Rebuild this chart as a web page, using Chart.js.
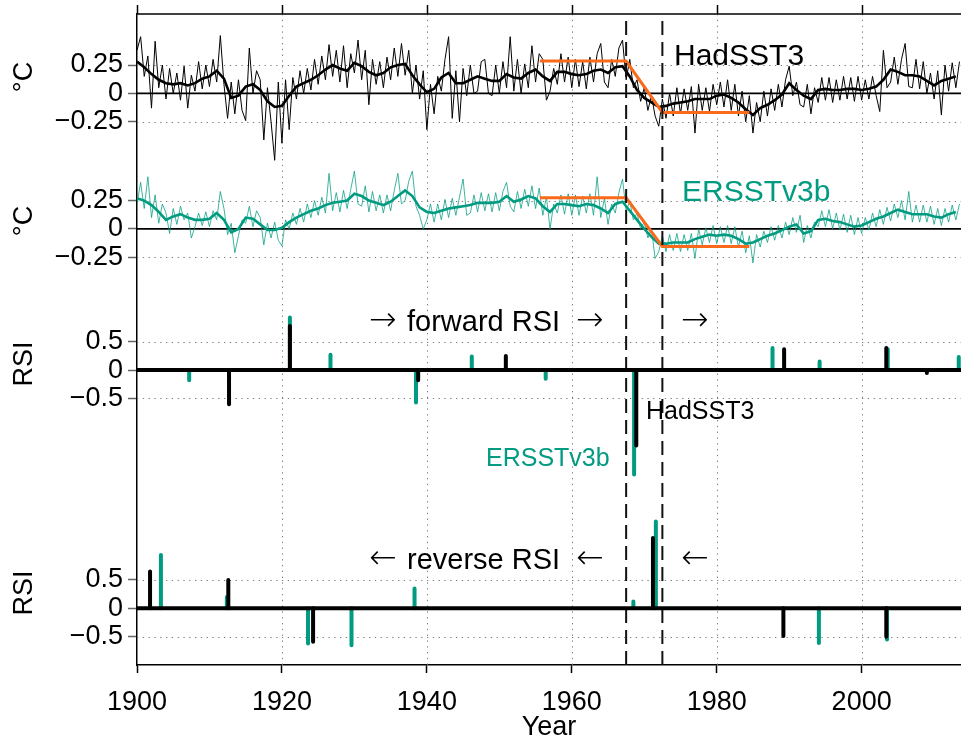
<!DOCTYPE html>
<html>
<head>
<meta charset="utf-8">
<script src="https://cdn.jsdelivr.net/npm/chart.js@4.4.1/dist/chart.umd.min.js"></script>
<style>
  html, body { margin: 0; padding: 0; background: #fff; }
  #wrap { position: relative; width: 961px; height: 740px; }
</style>
</head>
<body>
<div id="wrap"><canvas id="rsiChart"></canvas></div>
<script>
// Half-yearly SST anomalies (degC), 1900.0 .. 2013.5
const RAW_START = 1900;
const RAW_STEP = 0.5;
const hadRaw = [
  0.38, 0.50, 0.15, 0.33, -0.13, 0.46, 0.05, 0.25, -0.05, 0.22, 0.00, 0.18, -0.06, 0.24, -0.13, 0.16, 0.02, 0.28, 0.04, 0.25,
  0.06, 0.30, 0.10, 0.51, 0.08, -0.22, 0.10, -0.18, 0.12, -0.15, -0.24, 0.40, 0.00, 0.20, 0.12, -0.41, 0.05, -0.25, -0.59, 0.10,
  -0.44, 0.12, -0.32, 0.14, -0.05, 0.20, 0.00, 0.22, 0.03, 0.30, 0.08, 0.33, 0.12, 0.43, 0.15, 0.38, 0.10, 0.42, 0.05, 0.35,
  0.18, 0.47, 0.12, 0.38, -0.10, 0.30, 0.08, 0.28, 0.05, 0.32, 0.12, 0.40, 0.15, 0.44, 0.16, 0.38, 0.00, 0.25, -0.05, 0.20,
  -0.32, 0.08, -0.18, 0.15, 0.02, 0.30, 0.50, -0.22, 0.20, -0.25, 0.22, -0.02, 0.25, 0.00, 0.02, 0.28, 0.30, 0.00, -0.02, 0.25,
  0.00, 0.28, 0.05, 0.50, 0.02, 0.30, 0.00, 0.26, 0.05, 0.42, 0.10, 0.35, 0.30, -0.06, 0.02, 0.22, 0.08, 0.35, 0.10, 0.32,
  0.05, 0.30, 0.06, 0.28, 0.04, 0.32, 0.10, 0.35, 0.44, 0.10, 0.05, 0.30, 0.15, 0.40, 0.47, 0.12, 0.30, 0.05, 0.12, -0.07,
  0.05, -0.15, -0.02, -0.20, -0.29, -0.05, -0.22, 0.00, -0.20, 0.05, -0.18, 0.04, -0.15, 0.06, -0.35, 0.08, -0.15, 0.05, -0.16, 0.08,
  -0.10, 0.10, -0.12, 0.12, -0.15, 0.08, -0.20, 0.02, -0.25, -0.02, -0.35, -0.08, -0.25, 0.02, -0.20, 0.04, -0.15, 0.08, -0.12, 0.12,
  0.24, -0.02, 0.10, -0.10, -0.12, 0.08, -0.18, 0.05, -0.08, 0.14, -0.06, 0.14, -0.08, 0.12, -0.06, 0.15, -0.05, 0.14, -0.07, 0.15,
  -0.06, 0.12, -0.05, 0.15, -0.02, -0.16, 0.38, 0.05, 0.10, 0.32, 0.08, 0.30, 0.44, 0.06, 0.05, 0.30, 0.04, 0.28, 0.00, 0.18,
  -0.05, 0.20, -0.19, 0.25, 0.02, 0.27, 0.05, 0.28
];
const ersRaw = [
  0.22, 0.41, 0.18, 0.46, 0.10, 0.30, 0.05, 0.22, 0.14, -0.04, 0.18, 0.04, 0.20, 0.08, 0.14, -0.08, 0.02, 0.14, 0.03, 0.15,
  0.02, 0.16, 0.08, 0.33, 0.18, -0.05, 0.05, -0.21, -0.06, 0.08, 0.05, 0.20, 0.02, 0.16, 0.10, -0.14, 0.05, -0.08, 0.06, -0.10,
  -0.15, 0.08, 0.00, 0.14, 0.04, 0.18, 0.06, 0.22, 0.10, 0.25, 0.12, 0.28, 0.14, 0.49, 0.16, 0.32, 0.15, 0.34, 0.18, 0.35,
  0.51, 0.22, 0.20, 0.38, 0.15, 0.33, 0.16, 0.30, 0.14, 0.30, 0.16, 0.34, 0.49, 0.22, 0.25, 0.42, 0.51, 0.20, 0.12, 0.00,
  0.08, 0.22, 0.06, 0.22, 0.08, 0.26, 0.10, 0.27, 0.12, 0.28, 0.44, 0.12, 0.14, 0.30, 0.15, 0.32, 0.16, 0.31, 0.15, 0.32,
  0.16, 0.33, 0.41, 0.20, 0.15, 0.33, 0.18, 0.35, 0.20, 0.38, 0.18, 0.36, 0.12, 0.28, 0.00, 0.22, 0.14, 0.30, 0.13, 0.31,
  0.12, 0.30, 0.12, 0.29, 0.14, 0.31, 0.12, 0.46, 0.10, 0.27, 0.04, 0.22, 0.14, 0.32, 0.44, 0.16, 0.24, 0.08, 0.14, 0.00,
  0.06, -0.08, 0.00, -0.26, -0.20, -0.06, -0.20, -0.05, -0.19, -0.04, -0.20, -0.05, -0.19, -0.04, -0.26, 0.00, -0.14, 0.01, -0.12, 0.03,
  -0.13, 0.02, -0.12, 0.03, -0.13, 0.02, -0.16, -0.02, -0.21, -0.06, -0.30, -0.05, -0.16, -0.02, -0.12, 0.02, -0.10, 0.03, -0.08, 0.06,
  -0.05, 0.10, -0.03, 0.12, -0.12, 0.03, -0.08, 0.06, 0.02, 0.16, 0.02, 0.17, 0.00, 0.14, -0.01, 0.13, -0.03, 0.12, -0.05, 0.10,
  -0.04, 0.10, -0.01, 0.14, 0.02, 0.17, 0.04, 0.19, 0.07, 0.22, 0.10, 0.25, 0.08, 0.33, 0.06, 0.21, 0.06, 0.21, 0.06, 0.20,
  0.04, 0.18, 0.03, 0.18, 0.06, 0.21, 0.08, 0.22
];

// Smoothed curves, one value per year 1900 .. 2013
const SMOOTH_START = 1900;
const hadSmooth = [
  0.28, 0.23, 0.17, 0.12, 0.09, 0.08, 0.09, 0.07, 0.09, 0.13, 0.15, 0.20, 0.13, -0.04, -0.02, 0.06, 0.08, 0.03, -0.07, -0.12,
  -0.11, -0.02, 0.06, 0.09, 0.12, 0.16, 0.21, 0.25, 0.22, 0.20, 0.27, 0.24, 0.19, 0.16, 0.18, 0.23, 0.25, 0.26, 0.16, 0.08,
  0.01, 0.04, 0.14, 0.18, 0.09, 0.09, 0.12, 0.15, 0.13, 0.11, 0.11, 0.17, 0.14, 0.13, 0.18, 0.21, 0.15, 0.11, 0.19, 0.19,
  0.17, 0.16, 0.17, 0.20, 0.21, 0.18, 0.23, 0.24, 0.15, 0.03, -0.04, -0.08, -0.12, -0.11, -0.09, -0.08, -0.07, -0.05, -0.05, -0.05,
  -0.02, -0.01, -0.04, -0.08, -0.14, -0.19, -0.13, -0.10, -0.06, -0.01, 0.09, 0.03, -0.02, -0.05, 0.03, 0.04, 0.03, 0.03, 0.04, 0.04,
  0.03, 0.04, 0.06, 0.12, 0.21, 0.19, 0.16, 0.16, 0.15, 0.11, 0.07, 0.11, 0.13, 0.15
];
const ersSmooth = [
  0.27, 0.25, 0.21, 0.15, 0.08, 0.11, 0.13, 0.10, 0.08, 0.08, 0.09, 0.14, 0.08, -0.03, 0.00, 0.10, 0.09, 0.04, -0.01, -0.01,
  0.01, 0.06, 0.10, 0.13, 0.16, 0.18, 0.21, 0.23, 0.24, 0.25, 0.31, 0.29, 0.25, 0.23, 0.21, 0.24, 0.29, 0.34, 0.29, 0.19,
  0.15, 0.14, 0.16, 0.18, 0.19, 0.20, 0.21, 0.23, 0.23, 0.23, 0.24, 0.29, 0.24, 0.26, 0.29, 0.27, 0.20, 0.15, 0.22, 0.22,
  0.21, 0.20, 0.22, 0.21, 0.18, 0.14, 0.22, 0.24, 0.16, 0.08, 0.00, -0.07, -0.13, -0.13, -0.12, -0.12, -0.12, -0.09, -0.07, -0.05,
  -0.06, -0.05, -0.06, -0.09, -0.13, -0.12, -0.09, -0.06, -0.04, -0.01, 0.02, 0.04, -0.04, -0.02, 0.08, 0.09, 0.07, 0.06, 0.04, 0.02,
  0.03, 0.06, 0.09, 0.11, 0.14, 0.17, 0.15, 0.13, 0.13, 0.13, 0.11, 0.10, 0.13, 0.15
];

// Two-regime fits (orange)
const fitYears = [1955.6, 1967.5, 1972.5, 1984.5];
const hadFit = [0.285, 0.285, -0.168, -0.168];
const ersFit = [0.274, 0.274, -0.155, -0.155];
const breakYears = [1967.5, 1972.5];

// Regime shift index, forward and reverse
const fwdHadYears = [1912.7, 1921.1, 1938.8, 1950.9, 1968.9, 1989.3, 2003.4, 2009.0];
const fwdHadVals = [-0.60, 0.78, -0.18, 0.25, -1.33, 0.37, 0.39, -0.05];
const fwdErsYears = [1907.2, 1921.1, 1926.7, 1938.5, 1946.2, 1956.4, 1968.6, 1987.7, 1994.2, 2003.6, 2013.4];
const fwdErsVals = [-0.18, 0.93, 0.27, -0.57, 0.24, -0.15, -1.84, 0.39, 0.15, 0.37, 0.23];
const revHadYears = [1901.8, 1912.6, 1924.3, 1971.2, 1989.2, 2003.4];
const revHadVals = [0.65, 0.50, -0.59, 1.24, -0.49, -0.50];
const revErsYears = [1903.3, 1912.4, 1923.6, 1929.6, 1938.3, 1968.5, 1971.6, 1994.1, 2003.5];
const revErsVals = [0.94, 0.20, -0.62, -0.65, 0.35, 0.12, 1.53, -0.61, -0.55];

// Axis ticks
const xTicks = [1900, 1920, 1940, 1960, 1980, 2000];
const xGridYears = [1920, 1940, 1960, 1980, 2000];
const tempTicks = [0.25, 0, -0.25];
const tempTickLabels = ['0.25', '0', '\u22120.25'];
const rsiTicks = [0.5, 0, -0.5];
const rsiTickLabels = ['0.5', '0', '\u22120.5'];

// Panel layout on one shared y scale
const OFF_HAD = 4.54;
const OFF_ERS = 3.345;
const OFF_FWD = 2.10;
const OFF_REV = 0;
const RSI_SCALE = 0.5;
const Y_MIN = -0.5;
const Y_MAX = 5.24;
const X_MIN = 1900;
const X_MAX = 2013.71;

const TEAL = '#009B80';
const TEAL_THIN = 'rgba(0, 155, 128, 0.75)';
const ORANGE = '#F96A1B';
const FONT = '"Liberation Sans", Arial, Helvetica, sans-serif';
const ARROW_FONT = '"DejaVu Sans", sans-serif';

Chart.defaults.font.family = FONT;

function rawPoints(vals, offset) {
  return vals.map((v, i) => ({ x: RAW_START + i * RAW_STEP, y: offset + v }));
}
function smoothPoints(vals, offset) {
  return vals.map((v, i) => ({ x: SMOOTH_START + i, y: offset + v }));
}
function fitPoints(vals, offset) {
  return vals.map((v, i) => ({ x: fitYears[i], y: offset + v }));
}
function sticks(years, vals, offset) {
  const pts = [];
  years.forEach((yr, i) => {
    pts.push({ x: yr, y: offset });
    pts.push({ x: yr, y: offset + vals[i] * RSI_SCALE });
    pts.push({ x: yr, y: null });
  });
  return pts;
}

// y tick values + labels for all four panels
const yTickValues = [];
const yTickText = [];
[[OFF_HAD, 1], [OFF_ERS, 1], [OFF_FWD, RSI_SCALE], [OFF_REV, RSI_SCALE]].forEach(([off, k], p) => {
  const vals = p < 2 ? tempTicks : rsiTicks;
  const labs = p < 2 ? tempTickLabels : rsiTickLabels;
  vals.forEach((v, i) => { yTickValues.push(off + v * k); yTickText.push(labs[i]); });
});

function lineDs(data, color, width, order, extra) {
  return Object.assign({
    type: 'line', data: data, borderColor: color, borderWidth: width,
    pointRadius: 0, fill: false, tension: 0, order: order, spanGaps: false
  }, extra || {});
}

const datasets = [
  lineDs(rawPoints(hadRaw, OFF_HAD), '#000', 1, 9),
  lineDs(smoothPoints(hadSmooth, OFF_HAD), '#000', 2.6, 8),
  lineDs(rawPoints(ersRaw, OFF_ERS), TEAL_THIN, 1, 9),
  lineDs(smoothPoints(ersSmooth, OFF_ERS), TEAL, 2.6, 8),
  lineDs(fitPoints(hadFit, OFF_HAD), ORANGE, 3, 6),
  lineDs(fitPoints(ersFit, OFF_ERS), ORANGE, 3, 6),
  lineDs(sticks(fwdErsYears, fwdErsVals, OFF_FWD), TEAL, 4, 5, { borderCapStyle: 'round' }),
  lineDs(sticks(fwdHadYears, fwdHadVals, OFF_FWD), '#000', 4, 4, { borderCapStyle: 'round' }),
  lineDs(sticks(revErsYears, revErsVals, OFF_REV), TEAL, 4, 5, { borderCapStyle: 'round' }),
  lineDs(sticks(revHadYears, revHadVals, OFF_REV), '#000', 4, 4, { borderCapStyle: 'round' })
];
breakYears.forEach(yr => {
  datasets.push(lineDs([{ x: yr, y: Y_MIN }, { x: yr, y: Y_MAX }], '#111', 2, 2, { borderDash: [14, 7] }));
});

// dotted grid, zero lines, frame top and text labels
const decorPlugin = {
  id: 'decor',
  beforeDatasetsDraw(chart) {
    const { ctx, chartArea: a, scales: { x, y } } = chart;
    ctx.save();
    ctx.strokeStyle = '#7a7a7a';
    ctx.lineWidth = 1;
    ctx.setLineDash([1.3, 4.5]);
    xGridYears.forEach(yr => {
      const px = Math.round(x.getPixelForValue(yr)) + 0.5;
      ctx.beginPath(); ctx.moveTo(px, a.top); ctx.lineTo(px, a.bottom); ctx.stroke();
    });
    yTickValues.forEach((v, i) => {
      if (yTickText[i] === '0') return;
      const py = Math.round(y.getPixelForValue(v)) + 0.5;
      ctx.beginPath(); ctx.moveTo(a.left, py); ctx.lineTo(a.right, py); ctx.stroke();
    });
    ctx.setLineDash([]);
    ctx.strokeStyle = '#000';
    ctx.lineWidth = 1.6;
    [OFF_HAD, OFF_ERS].forEach(off => {
      const py = y.getPixelForValue(off);
      ctx.beginPath(); ctx.moveTo(a.left, py); ctx.lineTo(a.right, py); ctx.stroke();
    });
    ctx.restore();
  },
  afterDatasetsDraw(chart) {
    const { ctx, chartArea: a, scales: { x, y } } = chart;
    ctx.save();
    ctx.strokeStyle = '#000';
    ctx.lineWidth = 4;
    [OFF_FWD, OFF_REV].forEach(off => {
      const py = y.getPixelForValue(off);
      ctx.beginPath(); ctx.moveTo(a.left, py); ctx.lineTo(a.right, py); ctx.stroke();
    });
    // top frame with outward ticks
    ctx.lineWidth = 1.5;
    ctx.beginPath(); ctx.moveTo(a.left, a.top); ctx.lineTo(a.right, a.top); ctx.stroke();
    xTicks.forEach(yr => {
      const px = Math.round(x.getPixelForValue(yr)) + 0.5;
      ctx.beginPath(); ctx.moveTo(px, a.top); ctx.lineTo(px, a.top - 9); ctx.stroke();
    });

    ctx.textBaseline = 'alphabetic';
    ctx.textAlign = 'left';
    const txt = (s, px, py, size, color, fam, weight) => {
      ctx.font = (weight || 'normal') + ' ' + size + 'px ' + (fam || FONT);
      ctx.fillStyle = color;
      ctx.fillText(s, px, py);
    };
    txt('HadSST3', 674, 65, 30, '#000');
    txt('ERSSTv3b', 682, 201, 30, TEAL);
    txt('\u2192', 369, 330, 33, '#000', ARROW_FONT, '200');
    txt('forward RSI', 407, 331, 29, '#000');
    txt('\u2192', 576, 330, 33, '#000', ARROW_FONT, '200');
    txt('\u2192', 681, 330, 33, '#000', ARROW_FONT, '200');
    txt('HadSST3', 646, 419, 25, '#000');
    txt('ERSSTv3b', 486, 466, 25, TEAL);
    txt('\u2190', 369, 568, 33, '#000', ARROW_FONT, '200');
    txt('reverse RSI', 407, 569, 29, '#000');
    txt('\u2190', 576, 568, 33, '#000', ARROW_FONT, '200');
    txt('\u2190', 681, 568, 33, '#000', ARROW_FONT, '200');

    // axis titles
    ctx.fillStyle = '#000';
    ctx.font = '27px ' + FONT;
    ctx.textAlign = 'center';
    ctx.fillText('Year', (a.left + a.right) / 2, 735);
    ctx.textBaseline = 'middle';
    [['\u00B0C', 77], ['\u00B0C', 221], ['RSI', 364], ['RSI', 593]].forEach(([s, cy]) => {
      ctx.save();
      ctx.translate(25, cy);
      ctx.rotate(-Math.PI / 2);
      ctx.fillText(s, 0, 0);
      ctx.restore();
    });
    ctx.restore();
  }
};

new Chart(document.getElementById('rsiChart'), {
  type: 'line',
  data: { datasets: datasets },
  options: {
    responsive: true,
    maintainAspectRatio: false,
    animation: false,
    events: [],
    layout: { padding: { left: 0, right: 0, top: 14, bottom: 0 } },
    plugins: { legend: { display: false }, tooltip: { enabled: false } },
    scales: {
      x: {
        type: 'linear',
        min: X_MIN,
        max: X_MAX,
        afterBuildTicks: s => { s.ticks = xTicks.map(v => ({ value: v })); },
        afterFit: s => { s.height = 75; s.paddingLeft = 0; s.paddingRight = 0; },
        ticks: {
          autoSkip: false, maxRotation: 0, padding: 13, color: '#000',
          font: { size: 27 },
          callback: v => String(v)
        },
        grid: { drawOnChartArea: false, drawTicks: true, tickLength: 8, tickColor: '#000', tickWidth: 1.5 },
        border: { display: true, color: '#000', width: 1.5 }
      },
      y: {
        type: 'linear',
        min: Y_MIN,
        max: Y_MAX,
        afterBuildTicks: s => { s.ticks = yTickValues.map(v => ({ value: v })); },
        afterFit: s => { s.width = 137; s.paddingTop = 0; s.paddingBottom = 0; },
        ticks: {
          autoSkip: false, padding: 5, color: '#000',
          font: { size: 27 },
          callback: (v, i) => yTickText[i]
        },
        grid: { drawOnChartArea: false, drawTicks: true, tickLength: 9, tickColor: '#666', tickWidth: 1.5 },
        border: { display: true, color: '#000', width: 1.5 }
      }
    }
  },
  plugins: [decorPlugin]
});
</script>
</body>
</html>
